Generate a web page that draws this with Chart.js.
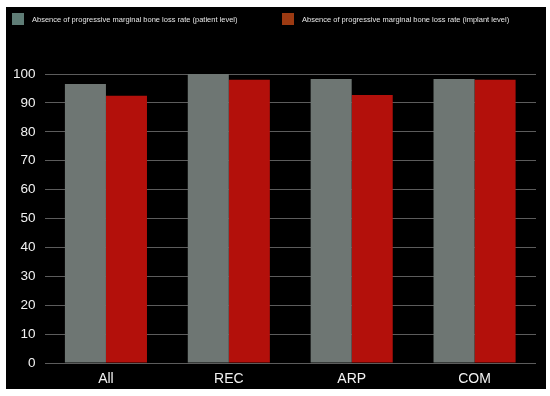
<!DOCTYPE html>
<html lang="en">
<head>
    <meta charset="UTF-8">
    <title>Marginal bone loss</title>
    <script src="https://cdn.jsdelivr.net/npm/chart.js@4.4.0/dist/chart.umd.js"></script>
    <style>
        html, body { margin: 0; padding: 0; background: #fff; }
        canvas { display: block; }
    </style>
</head>
<body>
    <canvas id="boneChart" width="550" height="396"></canvas>

    <script>
        // Chart data
        const categories = ['All', 'REC', 'ARP', 'COM'];
        const seriesLabels = [
            'Absence of progressive marginal bone loss rate (patient level)',
            'Absence of progressive marginal bone loss rate (implant level)'
        ];
        const patientLevel = [96.5, 100, 98.3, 98.3];
        const implantLevel = [92.5, 98, 92.7, 98];

        const barColors = ['#6e7673', '#b3100b'];
        const legendColors = ['#5f7d76', '#9c3a12'];

        // Black panel behind the chart
        const panelPlugin = {
            id: 'panel',
            beforeDraw(chart) {
                const ctx = chart.ctx;
                ctx.save();
                ctx.fillStyle = '#ffffff';
                ctx.fillRect(0, 0, chart.width, chart.height);
                ctx.fillStyle = '#000000';
                ctx.fillRect(6, 7, 540, 382);
                ctx.restore();
            }
        };

        // Simple legend drawn at the top of the panel
        const legendPlugin = {
            id: 'topLegend',
            afterDraw(chart) {
                const ctx = chart.ctx;
                const starts = [12, 282];
                ctx.save();
                ctx.font = '7.5px "Liberation Sans", Arial, sans-serif';
                ctx.textBaseline = 'middle';
                chart.data.datasets.forEach((ds, i) => {
                    ctx.fillStyle = legendColors[i];
                    ctx.fillRect(starts[i], 13, 12, 12);
                    ctx.fillStyle = '#e6e6e6';
                    ctx.fillText(ds.label, starts[i] + 20, 19.5);
                });
                ctx.restore();
            }
        };

        new Chart(document.getElementById('boneChart'), {
            type: 'bar',
            data: {
                labels: categories,
                datasets: [
                    {
                        label: seriesLabels[0],
                        data: patientLevel,
                        backgroundColor: barColors[0],
                        categoryPercentage: 0.668,
                        barPercentage: 1.0
                    },
                    {
                        label: seriesLabels[1],
                        data: implantLevel,
                        backgroundColor: barColors[1],
                        categoryPercentage: 0.668,
                        barPercentage: 1.0
                    }
                ]
            },
            options: {
                responsive: false,
                animation: false,
                devicePixelRatio: 1,
                layout: {
                    padding: { top: 74, left: 0, right: 14, bottom: 0 }
                },
                scales: {
                    x: {
                        grid: { display: false, drawTicks: false },
                        border: { display: false },
                        ticks: {
                            color: '#f2f2f2',
                            padding: 8,
                            font: { family: '"Liberation Sans", Arial, sans-serif', size: 14 }
                        },
                        afterFit(scale) { scale.height = 33; }
                    },
                    y: {
                        min: 0,
                        max: 100,
                        grid: { color: '#5c5c5c', lineWidth: 1, drawTicks: false },
                        border: { display: false },
                        ticks: {
                            stepSize: 10,
                            color: '#f2f2f2',
                            padding: 9,
                            font: { family: '"Liberation Sans", Arial, sans-serif', size: 13.5 }
                        },
                        afterFit(scale) { scale.width = 44.5; }
                    }
                },
                plugins: {
                    legend: { display: false },
                    tooltip: { enabled: false }
                }
            },
            plugins: [panelPlugin, legendPlugin]
        });
    </script>
</body>
</html>
